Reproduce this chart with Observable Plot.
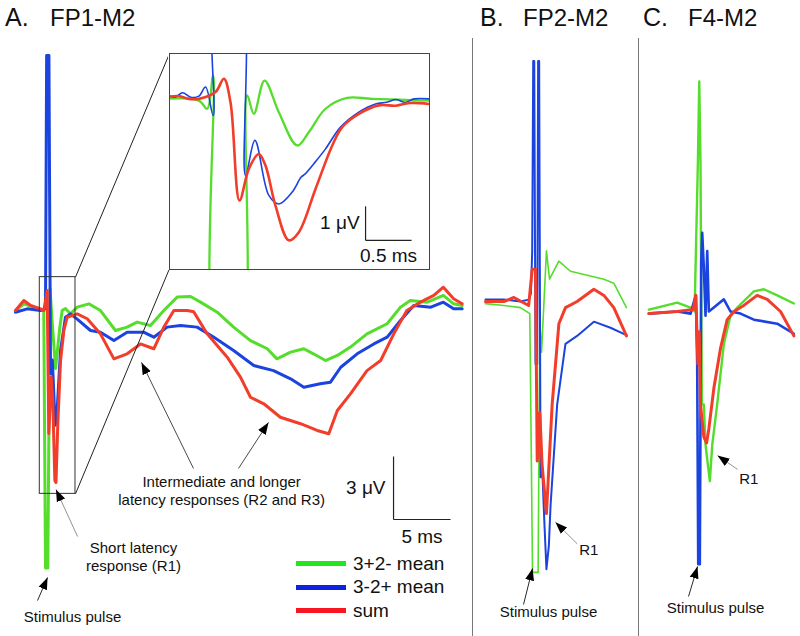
<!DOCTYPE html>
<html><head><meta charset="utf-8">
<script src="https://cdn.jsdelivr.net/npm/d3@7"></script>
<script src="https://cdn.jsdelivr.net/npm/@observablehq/plot@0.6"></script>
<style>
body{margin:0;background:#fff;}
#fig{position:relative;width:800px;height:636px;overflow:hidden;background:#fff;font-family:"Liberation Sans",Arial,sans-serif;color:#111;}
.abs{position:absolute;}
.title{position:absolute;top:6px;font-size:24px;line-height:24px;white-space:nowrap;}
.title.l{font-size:25px;top:5px;}
.sep{position:absolute;width:1px;background:#777;top:38px;bottom:0;}
.leg{position:absolute;left:296px;top:552px;}
.leg div{display:flex;align-items:center;height:23.5px;font-size:19px;white-space:nowrap;}
.leg span.sw{display:inline-block;width:50px;height:5px;margin-right:7px;}
</style></head><body><div id="fig"></div><script>
// ---------- data (time in ms relative to stimulus, amplitude in µV) ----------
const seriesNames = ["3+2- mean", "3-2+ mean", "sum"];
const seriesColors = ["#55dd2c", "#1a43df", "#f23d2b"];
const legendColors = ["#22e61e", "#0c22e0", "#f81420"];
const panelTitles = [["A.", "FP1-M2"], ["B.", "FP2-M2"], ["C.", "F4-M2"]];

const aGreen = [[-2.63,-0.24],[-1.9,0.08],[-1.02,-0.08],[-0.15,-0.24],[0.0,-12.5],[0.2,-12.5],[0.4,0.8],[0.55,-0.5],[0.88,-3.0],[1.26,-1.03],[1.46,-0.24],[1.75,-0.14],[2.19,-0.4],[2.78,-0.08],[3.8,0.08],[4.82,-0.24],[6.14,-1.19],[7.16,-1.03],[8.04,-0.79],[9.21,-0.95],[10.38,-0.24],[11.55,0.40],[12.72,0.43],[13.6,0.16],[15.06,-0.32],[16.5,-1.03],[17.98,-1.67],[19.45,-2.06],[20.3,-2.54],[21.5,-2.22],[22.66,-2.06],[23.5,-2.3],[24.56,-2.62],[25.6,-2.38],[26.75,-1.98],[28.2,-1.35],[29.97,-0.87],[31.14,-0.08],[32.0,0.24],[33.5,0.16],[34.9,0.48],[35.8,0.08],[36.55,0]];
const aBlue = [[-2.63,-0.32],[-1.6,-0.16],[-0.44,-0.24],[0,-0.14],[0.1,11.9],[0.3,11.9],[0.44,-3.24],[0.6,-2.6],[0.85,-5.7],[1.0,-5.2],[1.32,-2.14],[1.75,-0.56],[2.19,-0.4],[2.78,-0.65],[3.95,-1.19],[4.82,-1.27],[6.0,-1.67],[7.16,-1.27],[8.6,-1.27],[9.5,-1.51],[10.67,-1.03],[11.84,-0.95],[13.3,-1.03],[14.77,-1.51],[16.5,-2.14],[18.27,-2.86],[20.0,-3.1],[21.5,-3.49],[22.66,-3.89],[24.1,-3.73],[25.0,-3.65],[25.9,-2.94],[27.34,-2.3],[28.8,-1.83],[29.97,-1.51],[31.14,-0.71],[32.3,0],[33.8,-0.08],[34.9,0.16],[35.8,-0.16],[36.55,-0.16]];
const aRed = [[-2.63,-0.24],[-1.9,0.24],[-1.3,0],[-0.44,-0.16],[-0.15,-0.24],[0.15,0.71],[0.29,-6.1],[0.5,-3.41],[0.64,-4.52],[0.82,-8.33],[0.92,-8.43],[1.08,-5.62],[1.32,-2.62],[1.61,-1.19],[1.9,-0.56],[2.78,-0.4],[3.66,-0.63],[4.82,-1.35],[6.0,-2.54],[7.16,-2.3],[8.33,-1.83],[9.5,-2.06],[10.38,-1.03],[11.26,-0.24],[12.43,-0.24],[13.0,-0.3],[14.18,-1.35],[15.94,-2.46],[17.1,-3.41],[17.98,-4.37],[19.15,-4.68],[20.6,-5.32],[22.37,-5.63],[23.83,-5.95],[24.85,-6.11],[25.6,-5.0],[26.75,-4.21],[28.2,-3.1],[29.4,-2.62],[30.55,-1.35],[31.7,-0.24],[32.9,0.16],[34.06,0.48],[34.9,0.87],[35.8,0.32],[36.55,0.08]];

const insetGreen = [[-0.554,-0.10],[-0.192,-0.15],[-0.101,-0.39],[-0.036,0.59],[0.025,-8],[0.236,-8],[0.333,0],[0.406,-0.54],[0.522,0.44],[0.677,-0.49],[0.877,-1.47],[1.003,-1.08],[1.185,-0.39],[1.42,-0.07],[1.69,-0.10],[2.31,-0.15]];
const insetBlue = [[-0.554,0.05],[-0.45,-0.05],[-0.37,0.08],[-0.28,-0.05],[-0.192,-0.02],[-0.119,0.25],[-0.036,-0.59],[0.007,4],[0.236,4],[0.315,-2.35],[0.417,-1.32],[0.569,-2.94],[0.677,-3.19],[0.823,-2.84],[0.92,-2.4],[0.967,-2.30],[1.06,-2.0],[1.185,-1.57],[1.348,-0.93],[1.547,-0.49],[1.728,-0.25],[1.85,-0.2],[1.95,-0.12],[2.05,-0.2],[2.15,-0.1],[2.31,-0.1]];
const insetRed = [[-0.554,-0.05],[-0.4,-0.02],[-0.3,-0.1],[-0.192,-0.10],[-0.011,0.10],[0.080,0.49],[0.152,-0.20],[0.25,-3.09],[0.351,-2.16],[0.46,-1.72],[0.532,-2.06],[0.641,-3.24],[0.786,-4.26],[0.895,-4.02],[1.076,-2.75],[1.258,-1.47],[1.366,-0.93],[1.547,-0.54],[1.764,-0.29],[1.95,-0.3],[2.1,-0.22],[2.31,-0.25]];

const bGreen = [[-4.39,-0.10],[-2.78,-0.19],[-1.32,-0.29],[-0.5,-0.58],[-0.26,-12.9],[0.23,-12.9],[0.38,-1.06],[0.53,-2.41],[0.96,2.41],[1.23,1.06],[2.05,1.92],[3.07,1.44],[4.53,1.25],[6.0,1.06],[6.87,0.87],[7.98,-0.29]];
const bBlue = [[-4.39,0.09],[-2.78,0.09],[-1.32,0],[-0.6,0.09],[-0.4,0.38],[-0.29,2.41],[-0.2,11.45],[-0.11,11.45],[0,-2.98],[0.15,-2.98],[0.23,11.45],[0.32,11.45],[0.44,-8.37],[0.58,-7.79],[0.79,-10.68],[0.96,-12.75],[1.17,-11.64],[1.32,-9.72],[1.9,-4.91],[2.63,-2.02],[3.65,-1.64],[5.12,-0.96],[6.58,-1.25],[7.98,-1.6]];
const bRed = [[-4.39,0],[-2.78,0],[-1.9,0.19],[-0.6,-0.19],[-0.29,1.54],[0,1.54],[0.15,-7.6],[0.38,-5.29],[0.58,-7.79],[0.96,-10.1],[1.46,-4.91],[2.05,-1.06],[2.63,-0.29],[3.65,0],[5.12,0.58],[6.0,0.29],[6.87,-0.29],[7.98,-1.64]];

const cGreen = [[-4.24,0.09],[-1.75,0.42],[-0.58,0.19],[-0.23,0],[0.06,7.11],[0.18,10.96],[0.29,7.11],[0.41,-4.43],[0.58,-4.43],[0.73,-6.35],[0.94,-7.32],[1.11,-8.08],[1.32,-6.35],[1.75,-4.43],[2.34,-1.54],[2.92,-0.2],[3.51,0.19],[4.97,0.96],[5.85,1.06],[7.02,0.77],[8.48,0.38]];
const cBlue = [[-4.24,-0.1],[-1.75,0],[-0.58,-0.1],[-0.23,0.58],[-0.12,0.77],[0,-2.5],[0.09,-12.03],[0.23,-12.03],[0.35,2.31],[0.44,3.75],[0.58,2.11],[0.73,-0.2],[0.88,2.88],[1.02,0],[1.46,0.19],[2.34,0.58],[2.92,0],[3.8,-0.1],[4.97,-0.39],[7.02,-0.58],[8.48,-1.06]];
const cRed = [[-4.24,-0.1],[-1.75,0],[-0.35,0.09],[-0.12,0.77],[0.06,-2.5],[0.18,-0.97],[0.29,-4.43],[0.58,-5.97],[0.82,-6.26],[1.02,-5.59],[1.46,-3.66],[2.05,-1.74],[2.63,-0.39],[3.22,0],[4.09,0.29],[5.26,0.77],[6.14,0.58],[7.31,0],[8.48,-1.16]];

// ---------- helpers ----------
const fig = document.getElementById("fig");
const FONT = "Liberation Sans, Arial, sans-serif";
const pts = arr => arr.map(([t, v]) => ({t, v}));

function headMarker() {
  const ns = "http://www.w3.org/2000/svg";
  const m = document.createElementNS(ns, "marker");
  m.setAttribute("viewBox", "-12 -6 12 12");
  m.setAttribute("markerWidth", 12);
  m.setAttribute("markerHeight", 12);
  m.setAttribute("markerUnits", "userSpaceOnUse");
  m.setAttribute("refX", 0); m.setAttribute("refY", 0);
  m.setAttribute("orient", "auto");
  const p = document.createElementNS(ns, "path");
  p.setAttribute("d", "M-12,-4.5L0,0L-12,4.5Z");
  p.setAttribute("fill", "#000");
  p.setAttribute("stroke", "none");
  m.appendChild(p);
  return m;
}
let HEAD = headMarker;
try {
  Plot.plot({marks: [Plot.link([{a: 0, b: 1}], {x1: "a", y1: "a", x2: "b", y2: "b", markerEnd: headMarker})]});
} catch (e) { HEAD = "arrow"; }

function traces(sets, widths, extra = {}) {
  return sets.map((arr, i) => Plot.line(pts(arr), {
    x: "t", y: "v", stroke: seriesColors[i], strokeWidth: widths[i],
    strokeLinejoin: "round", strokeLinecap: "round", ...extra
  }));
}
function arrow(x1, y1, x2, y2, stroke = "#333", sw = 0.9) {
  return Plot.link([{x1, y1, x2, y2}], {x1: "x1", y1: "y1", x2: "x2", y2: "y2", stroke, strokeWidth: sw, markerEnd: HEAD});
}
function seg(x1, y1, x2, y2, stroke = "#222", sw = 1.2) {
  return Plot.link([{x1, y1, x2, y2}], {x1: "x1", y1: "y1", x2: "x2", y2: "y2", stroke, strokeWidth: sw});
}
function label(text, x, y, opts = {}) {
  return Plot.text([{x, y, text}], {x: "x", y: "y", text: "text", fontSize: 15, fontFamily: FONT, fill: "#111", ...opts});
}
function mount(svg, left, top) {
  const d = document.createElement("div");
  d.className = "abs";
  d.style.left = left + "px";
  d.style.top = top + "px";
  d.appendChild(svg);
  fig.appendChild(d);
}
const PXMS = 11.4, PXUV = 21;

// ---------- Panel A ----------
const plotA = Plot.plot({
  width: 470, height: 636, margin: 0,
  x: {domain: [-45 / PXMS, 425 / PXMS], axis: null},
  y: {domain: [-331 / PXUV, 305 / PXUV], axis: null},
  style: {background: "transparent", overflow: "visible"},
  marks: [
    ...traces([aGreen, aBlue, aRed], [3, 3, 3]),
    Plot.rect([{x1: -0.5, x2: 2.63, y1: -8.97, y2: 1.35}], {x1: "x1", x2: "x2", y1: "y1", y2: "y2", fill: "none", stroke: "#333", strokeWidth: 1}),
    seg(2.63, 1.35, 10.88, 12.0, "#222", 1),
    seg(2.63, -8.97, 10.88, 1.76, "#222", 1),
    seg(30.53, -10.19, 30.53, -7.19),
    seg(30.53, -10.19, 35.53, -10.19),
    label("3 μV", 30.53, -8.69, {textAnchor: "end", dx: -8, fontSize: 19}),
    label("5 ms", 33.03, -10.19, {dy: 17, fontSize: 19}),
    label("Short latency\nresponse (R1)", 7.72, -11.95, {lineHeight: 1.22}),
    arrow(2.81, -11.0, 0.92, -8.76, "#777", 0.8),
    label("Intermediate and longer\nlatency responses (R2 and R3)", 15.45, -8.79, {lineHeight: 1.22}),
    arrow(12.98, -7.76, 8.42, -2.71),
    arrow(16.93, -7.76, 19.56, -5.57),
    label("Stimulus pulse", 2.37, -14.86),
    arrow(-0.70, -14.05, 0.18, -12.95, "#111")
  ]
});
mount(plotA, 0, 0);

// ---------- Inset ----------
const plotInset = Plot.plot({
  width: 262, height: 218, margin: 1,
  x: {domain: [-0.511, 2.315], axis: null},
  y: {domain: [-5.118, 1.235], axis: null},
  style: {background: "white", overflow: "hidden"},
  marks: [
    ...traces([insetGreen, insetBlue, insetRed], [2.3, 1.6, 2.6], {curve: "catmull-rom", clip: true}),
    seg(1.62, -4.26, 1.62, -3.26),
    seg(1.62, -4.26, 2.12, -4.26),
    label("1 μV", 1.62, -3.76, {textAnchor: "end", dx: -6, fontSize: 19}),
    label("0.5 ms", 1.87, -4.26, {dy: 16, fontSize: 19}),
    Plot.frame({stroke: "#444", strokeWidth: 1})
  ]
});
mount(plotInset, 168, 52);

// ---------- Panel B ----------
const plotB = Plot.plot({
  width: 165, height: 636, margin: 0,
  x: {domain: [(473 - 535) / PXMS, (638 - 535) / PXMS], axis: null},
  y: {domain: [-335 / PXUV, 301 / PXUV], axis: null},
  style: {background: "transparent", overflow: "visible"},
  marks: [
    ...traces([bGreen, bBlue, bRed], [1.6, 2.0, 3.0]),
    label("R1", 4.68, -11.86),
    arrow(3.66, -11.54, 1.75, -10.51, "#777", 0.8),
    label("Stimulus pulse", 1.14, -14.81),
    arrow(-1.05, -14.43, -0.26, -12.71, "#111")
  ]
});
mount(plotB, 473, 0);

// ---------- Panel C ----------
const plotC = Plot.plot({
  width: 161, height: 636, margin: 0,
  x: {domain: [(639 - 696.7) / PXMS, (800 - 696.7) / PXMS], axis: null},
  y: {domain: [-325 / PXUV, 311 / PXUV], axis: null},
  style: {background: "transparent", overflow: "visible"},
  marks: [
    ...traces([cGreen, cBlue, cRed], [2.4, 2.6, 3.0]),
    label("R1", 4.53, -7.99),
    arrow(3.54, -7.52, 1.78, -6.86, "#777", 0.8),
    label("Stimulus pulse", 1.61, -14.14),
    arrow(-0.76, -13.57, 0.03, -12.14, "#111")
  ]
});
mount(plotC, 639, 0);

// ---------- separators, titles, legend ----------
[472, 638].forEach(x => { const s = document.createElement("div"); s.className = "sep"; s.style.left = x + "px"; fig.appendChild(s); });
const titlePos = [[5, 50], [480, 523], [643, 688]];
panelTitles.forEach(([letter, name], i) => {
  const a = document.createElement("div"); a.className = "title l"; a.style.left = titlePos[i][0] + "px"; a.textContent = letter; fig.appendChild(a);
  const b = document.createElement("div"); b.className = "title"; b.style.left = titlePos[i][1] + "px"; b.textContent = name; fig.appendChild(b);
});
const leg = document.createElement("div"); leg.className = "leg";
seriesNames.forEach((n, i) => {
  const row = document.createElement("div");
  const sw = document.createElement("span"); sw.className = "sw"; sw.style.background = legendColors[i];
  row.appendChild(sw); row.appendChild(document.createTextNode(n));
  leg.appendChild(row);
});
fig.appendChild(leg);
</script></body></html>
